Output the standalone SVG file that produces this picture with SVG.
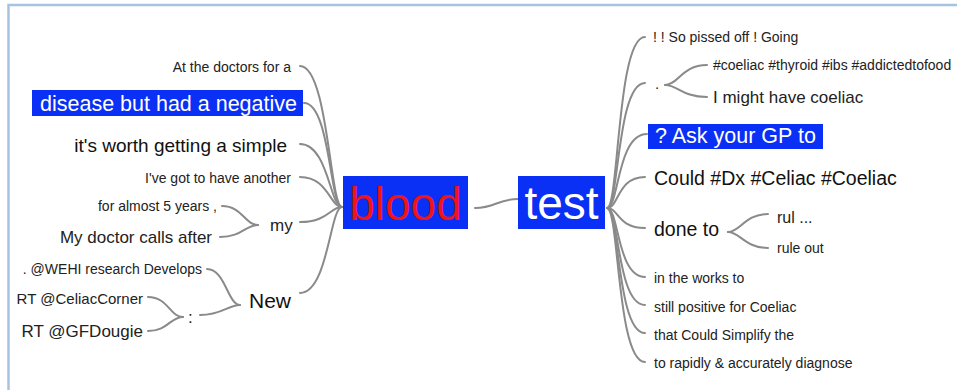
<svg xmlns="http://www.w3.org/2000/svg" width="957" height="390" viewBox="0 0 957 390">
<style>
text{font-family:"Liberation Sans",Arial,sans-serif;fill:#222}
.s{font-size:14px}
.e{text-anchor:end}
.hl{fill:#0a2ff5}
.w{fill:#fff}
#links path{fill:none;stroke:#8a8a8a;stroke-width:2;stroke-linecap:round}
</style>
<rect width="957" height="390" fill="#fff"/>
<path d="M8.5,390 V5 H957" fill="none" stroke="#a6c3e2" stroke-width="2.5"/>
<g id="links">
<path d="M475,208 C495,208 498,199 518,199"/>
<path d="M342,207 C330,207 328,66 300,66"/>
<path d="M342,207 C330,207 330,103 304,103"/>
<path d="M342,207 C330,207 328,144 300,144"/>
<path d="M342,207 C330,207 328,177 300,177"/>
<path d="M342,207 C330,207 328,222 300,222"/>
<path d="M342,207 C330,207 328,293 300,293"/>
<path d="M258,225 C245,225 242,206 222,206"/>
<path d="M258,225 C245,225 242,237 220,237"/>
<path d="M240,305 C228,305 225,269 207,269"/>
<path d="M240,305 C228,305 222,315 200,315"/>
<path d="M183,317 C170,317 168,297 148,297"/>
<path d="M183,317 C170,317 168,331 148,331"/>
<path d="M607,208 C619,208 617,37 645,37"/>
<path d="M607,208 C619,208 617,83 645,83"/>
<path d="M607,208 C619,208 617,134 647,134"/>
<path d="M607,208 C619,208 617,177 645,177"/>
<path d="M607,208 C619,208 617,228 645,228"/>
<path d="M607,208 C619,208 617,277 645,277"/>
<path d="M607,208 C619,208 617,305 645,305"/>
<path d="M607,208 C619,208 617,333 645,333"/>
<path d="M607,208 C619,208 617,362 645,362"/>
<path d="M665,85 C678,85 682,65 707,65"/>
<path d="M665,85 C678,85 682,97 707,97"/>
<path d="M728,232 C740,232 745,214 768,214"/>
<path d="M728,232 C740,232 745,248 768,248"/>
</g>
<g id="blood"><rect class="hl" x="343" y="176" width="125" height="53"/><text x="405.5" y="220" text-anchor="middle" style="font-size:46px;fill:#f01414">blood</text></g>
<g id="test"><rect class="hl" x="518" y="176" width="87" height="53"/><text x="561.5" y="219" text-anchor="middle" class="w" style="font-size:46px">test</text></g>
<g id="n-doctors"><text class="s e" x="291" y="72">At the doctors for a</text></g>
<g id="n-negative"><rect class="hl" x="32" y="90" width="271" height="26"/><text class="e w" x="297" y="110.5" style="font-size:21.5px">disease but had a negative</text></g>
<g id="n-simple"><text class="e" x="287" y="151.5" style="font-size:19px;fill:#111">it's worth getting a simple</text></g>
<g id="n-another"><text class="s e" x="291" y="183">I've got to have another</text></g>
<g id="n-my"><text x="270" y="231" style="font-size:17px">my</text></g>
<g id="n-years"><text class="s e" x="217" y="211">for almost 5 years ,</text></g>
<g id="n-calls"><text class="e" x="212" y="243" style="font-size:17px">My doctor calls after</text></g>
<g id="n-new"><text x="249" y="308" style="font-size:21px;fill:#111">New</text></g>
<g id="n-wehi"><text class="s e" x="202" y="274">. @WEHI research Develops</text></g>
<g id="n-colon"><text x="188" y="323" style="font-size:17px">:</text></g>
<g id="n-celiaccorner"><text class="e" x="143" y="304" style="font-size:15px">RT @CeliacCorner</text></g>
<g id="n-gfdougie"><text class="e" x="143" y="337" style="font-size:17px">RT @GFDougie</text></g>
<g id="n-pissed"><text class="s" x="653" y="42">! ! So pissed off ! Going</text></g>
<g id="n-dot"><text x="655" y="89" style="font-size:15px">.</text></g>
<g id="n-hashtags"><text class="s" x="713" y="70">#coeliac #thyroid #ibs #addictedtofood</text></g>
<g id="n-might"><text x="713" y="103" style="font-size:17px">I might have coeliac</text></g>
<g id="n-askgp"><rect class="hl" x="648" y="124" width="175" height="25"/><text class="w" x="655" y="143" style="font-size:21.5px">? Ask your GP to</text></g>
<g id="n-could"><text x="654" y="185" style="font-size:19.5px;fill:#111">Could #Dx #Celiac #Coeliac</text></g>
<g id="n-doneto"><text x="654" y="236" style="font-size:19.5px;fill:#111">done to</text></g>
<g id="n-rul"><text x="777" y="223" style="font-size:16px">rul ...</text></g>
<g id="n-ruleout"><text class="s" x="777" y="253">rule out</text></g>
<g id="n-works"><text class="s" x="654" y="283">in the works to</text></g>
<g id="n-positive"><text class="s" x="654" y="312">still positive for Coeliac</text></g>
<g id="n-simplify"><text class="s" x="654" y="340">that Could Simplify the</text></g>
<g id="n-diagnose"><text class="s" x="654" y="368">to rapidly &amp; accurately diagnose</text></g>
</svg>
